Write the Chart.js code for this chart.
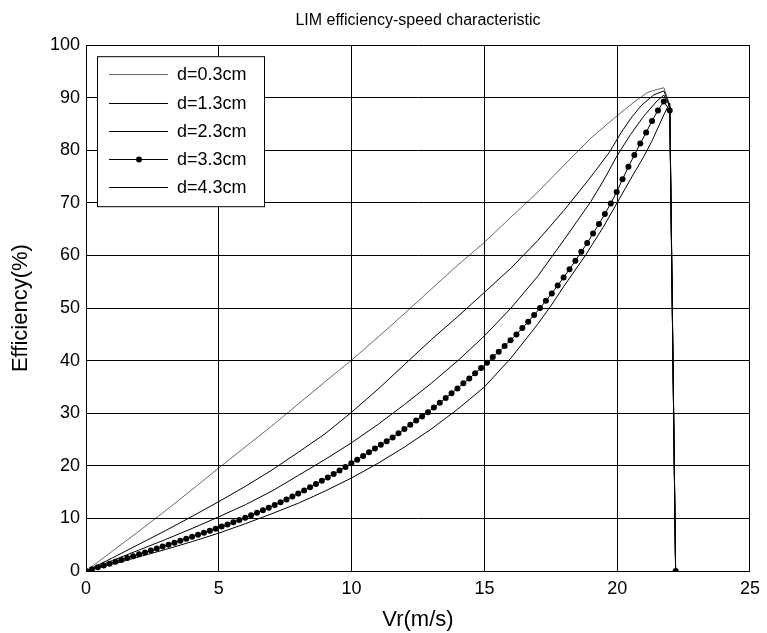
<!DOCTYPE html>
<html>
<head>
<meta charset="utf-8">
<script src="https://cdn.jsdelivr.net/npm/chart.js@4.4.1/dist/chart.umd.min.js"></script>
<style>
  html, body { margin: 0; padding: 0; background: #fff; }
  #wrap { width: 767px; height: 633px; }
</style>
</head>
<body>
<div id="wrap"><canvas id="chart" width="767" height="633"></canvas></div>
<script>
// speed samples (m/s) used for the d=3.3cm series (marked every sample)
const speed33 = [0, 0.222, 0.444, 0.666, 0.888, 1.11, 1.332, 1.554, 1.776, 1.998,
    2.22, 2.442, 2.664, 2.886, 3.108, 3.33, 3.552, 3.774, 3.996, 4.218,
    4.44, 4.662, 4.884, 5.106, 5.328, 5.55, 5.772, 5.994, 6.216, 6.438,
    6.66, 6.882, 7.104, 7.326, 7.548, 7.77, 7.992, 8.214, 8.436, 8.658,
    8.88, 9.102, 9.324, 9.546, 9.768, 9.99, 10.212, 10.434, 10.656, 10.878,
    11.1, 11.322, 11.544, 11.766, 11.988, 12.21, 12.432, 12.654, 12.876, 13.098,
    13.32, 13.542, 13.764, 13.986, 14.208, 14.43, 14.652, 14.874, 15.096, 15.318,
    15.54, 15.762, 15.984, 16.206, 16.428, 16.65, 16.872, 17.094, 17.316, 17.538,
    17.76, 17.982, 18.204, 18.426, 18.648, 18.87, 19.092, 19.314, 19.536, 19.758,
    19.98, 20.202, 20.424, 20.646, 20.868, 21.09, 21.312, 21.534, 21.756, 21.978, 22.2];
const eff33 = [0, 0.35, 0.69, 1.04, 1.39, 1.75, 2.1, 2.46, 2.82, 3.18,
    3.54, 3.9, 4.27, 4.64, 5.01, 5.38, 5.76, 6.13, 6.51, 6.89,
    7.28, 7.66, 8.05, 8.44, 8.84, 9.26, 9.68, 10.13, 10.59, 11.06,
    11.54, 12.04, 12.55, 13.08, 13.62, 14.17, 14.74, 15.32, 15.92, 16.53,
    17.15, 17.78, 18.44, 19.1, 19.78, 20.47, 21.17, 21.89, 22.6, 23.3,
    24.0, 24.7, 25.4, 26.2, 27.0, 27.8, 28.6, 29.4, 30.2, 31.1,
    32.0, 32.9, 33.8, 34.7, 35.7, 36.6, 37.6, 38.6, 39.6, 40.7,
    41.7, 42.8, 43.9, 45.0, 46.2, 47.4, 48.7, 50.0, 51.4, 52.8,
    54.3, 55.8, 57.4, 59.0, 60.7, 62.4, 64.2, 66.0, 67.9, 69.9,
    72.1, 74.5, 76.9, 79.1, 81.3, 83.4, 85.6, 87.6, 89.3, 87.6, 0];

const speed03 = [0, 1, 2, 3, 4, 5, 6, 7, 8, 9, 10, 11, 12, 13, 14, 15, 16, 17, 18, 19, 20, 20.64, 21.14, 21.51, 21.76, 21.98, 22.2];
const eff03 = [0, 3.8, 7.6, 11.5, 15.5, 19.6, 23.6, 27.6, 31.8, 36.0, 40.1, 44.5, 49.0, 53.6, 58.2, 62.5, 67.3, 72.0, 77.2, 82.3, 86.6, 89.2, 91.0, 91.6, 91.9, 88.6, 0];

const speed13 = [0, 1, 2, 3, 4, 5, 6, 7, 8, 9, 10, 11, 12, 13, 14, 15, 16, 17, 18, 19, 19.7, 20.14, 20.5, 20.9, 21.39, 21.76, 21.98, 22.2];
const eff13 = [0, 2.5, 5.1, 7.7, 10.4, 13.2, 16.1, 19.2, 22.6, 26.1, 30.2, 34.6, 39.3, 44.0, 48.4, 53.0, 57.6, 62.8, 68.6, 74.9, 79.6, 83.3, 86.0, 88.5, 90.6, 91.3, 88.4, 0];

const speed23 = [0, 1, 2, 3, 4, 5, 6, 7, 8, 9, 10, 11, 12, 13, 14, 15, 16, 17, 18, 18.5, 19, 19.5, 20, 20.5, 21, 21.5, 21.76, 21.98, 22.2];
const eff23 = [0, 2.0, 4.0, 6.0, 8.1, 10.3, 12.6, 15.2, 18.2, 21.2, 24.4, 27.9, 31.7, 35.7, 40.0, 44.7, 50.0, 56.0, 63.0, 66.6, 70.2, 74.4, 79.0, 83.0, 86.5, 89.4, 90.5, 88.4, 0];

const speed43 = [0, 1, 2, 3, 4, 5, 6, 7, 8, 9, 10, 11, 12, 13, 14, 15, 16, 17, 17.5, 18, 18.8, 19.5, 19.95, 20.5, 21, 21.32, 21.76, 21.98, 22.2];
const eff43 = [0, 1.3, 2.7, 4.1, 5.6, 7.2, 9.0, 10.9, 12.9, 15.2, 17.7, 20.5, 23.6, 27.0, 30.8, 35.0, 40.5, 46.9, 50.4, 54.2, 60.0, 65.6, 69.6, 74.5, 78.8, 81.9, 86.8, 89.0, 0];

const seriesLabels = ['d=0.3cm', 'd=1.3cm', 'd=2.3cm', 'd=3.3cm', 'd=4.3cm'];
const xTicks = [0, 5, 10, 15, 20, 25];
const yTicks = [0, 10, 20, 30, 40, 50, 60, 70, 80, 90, 100];

const pairs = (xs, ys) => xs.map((x, i) => ({ x: x, y: ys[i] }));

const FONT = "'Liberation Sans', Arial, Helvetica, sans-serif";
Chart.defaults.font.family = FONT;
Chart.defaults.color = '#000';

// legend drawn inside the axes box, top-left like the matlab one
const insetLegend = {
    id: 'insetLegend',
    afterDraw(chart) {
        const { ctx, chartArea } = chart;
        const x0 = chartArea.left + 11, y0 = chartArea.top + 11;
        const w = 167, h = 150;
        ctx.save();
        ctx.fillStyle = '#fff';
        ctx.fillRect(x0, y0, w, h);
        ctx.strokeStyle = '#000';
        ctx.lineWidth = 1;
        ctx.strokeRect(x0 + 0.5, y0 + 0.5, w, h);
        ctx.font = '18px ' + FONT;
        ctx.textBaseline = 'middle';
        ctx.fillStyle = '#000';
        chart.data.datasets.forEach((ds, i) => {
            const y = Math.round(y0 + 18 + i * 28.3) + 0.5;
            ctx.beginPath();
            ctx.lineWidth = ds.borderWidth;
            ctx.moveTo(x0 + 12, y);
            ctx.lineTo(x0 + 71, y);
            ctx.stroke();
            if (ds.pointRadius) {
                ctx.beginPath();
                ctx.arc(x0 + 42, y, ds.pointRadius, 0, Math.PI * 2);
                ctx.fill();
            }
            ctx.fillText(ds.label, x0 + 80, y + 1);
        });
        ctx.restore();
    }
};

// centre the title over the axes instead of the whole canvas
const titleOverAxes = {
    id: 'titleOverAxes',
    afterLayout(chart) {
        if (chart.titleBlock) {
            chart.titleBlock.left = chart.chartArea.left;
            chart.titleBlock.right = chart.chartArea.right;
        }
    }
};

const plainLine = (label, xs, ys, width) => ({
    label: label,
    data: pairs(xs, ys),
    borderColor: '#000',
    backgroundColor: '#000',
    borderWidth: width,
    pointRadius: 0,
    tension: 0,
    fill: false
});

new Chart(document.getElementById('chart').getContext('2d'), {
    type: 'line',
    data: {
        datasets: [
            plainLine(seriesLabels[0], speed03, eff03, 0.6),
            plainLine(seriesLabels[1], speed13, eff13, 1),
            plainLine(seriesLabels[2], speed23, eff23, 1),
            {
                label: seriesLabels[3],
                data: pairs(speed33, eff33),
                borderColor: '#000',
                backgroundColor: '#000',
                borderWidth: 1,
                pointRadius: 3,
                pointBorderWidth: 0,
                pointBackgroundColor: '#000',
                tension: 0,
                fill: false
            },
            plainLine(seriesLabels[4], speed43, eff43, 1)
        ]
    },
    options: {
        responsive: false,
        animation: false,
        layout: { padding: { left: 0, right: 12, top: 0, bottom: 0 } },
        plugins: {
            legend: { display: false },
            tooltip: { enabled: false },
            title: {
                display: true,
                text: 'LIM efficiency-speed characteristic',
                font: { size: 16, weight: 'normal' },
                padding: { top: 11, bottom: 15 }
            }
        },
        scales: {
            x: {
                type: 'linear',
                min: 0,
                max: 25,
                afterBuildTicks: (scale) => { scale.ticks = xTicks.map(v => ({ value: v })); },
                afterFit: (scale) => { scale.height = 62; },
                ticks: { font: { size: 18 }, padding: 7, maxRotation: 0 },
                grid: { color: '#000', lineWidth: 1, drawTicks: false },
                border: { color: '#000', width: 1 },
                title: { display: true, text: 'Vr(m/s)', font: { size: 22 }, padding: { top: 0, bottom: 0 } }
            },
            y: {
                min: 0,
                max: 100,
                afterBuildTicks: (scale) => { scale.ticks = yTicks.map(v => ({ value: v })); },
                afterFit: (scale) => { scale.width = 86; },
                ticks: { font: { size: 18 }, padding: 6 },
                grid: { color: '#000', lineWidth: 1, drawTicks: false },
                border: { color: '#000', width: 1 },
                title: { display: true, text: 'Efficiency(%)', font: { size: 22 }, padding: { top: 8, bottom: 0 } }
            }
        }
    },
    plugins: [insetLegend, titleOverAxes]
});
</script>
</body>
</html>
